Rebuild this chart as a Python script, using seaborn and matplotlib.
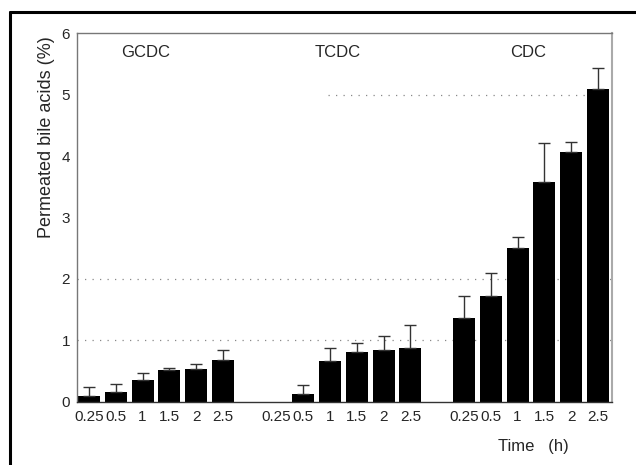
import numpy as np
import pandas as pd
import matplotlib
matplotlib.use('Agg')
import matplotlib.pyplot as plt
import seaborn as sns

# values (mean and upper error bar)
times = ['0.25', '0.5', '1', '1.5', '2', '2.5']
groups = ['GCDC', 'TCDC', 'CDC']
gcdc_mean = [0.10, 0.17, 0.36, 0.52, 0.53, 0.69]
gcdc_sd = [0.14, 0.12, 0.11, 0.03, 0.08, 0.15]
tcdc_mean = [0.0, 0.125, 0.66, 0.81, 0.85, 0.88]
tcdc_sd = [0.0, 0.145, 0.22, 0.15, 0.23, 0.37]
cdc_mean = [1.36, 1.73, 2.51, 3.58, 4.06, 5.09]
cdc_sd = [0.36, 0.36, 0.18, 0.63, 0.17, 0.34]

sns.set_style('white')
plt.rcParams['font.family'] = ['Liberation Sans', 'DejaVu Sans']

# build slot table, one empty slot between groups
rows = []
for gi, (g, m, s) in enumerate(zip(groups, [gcdc_mean, tcdc_mean, cdc_mean],
                                   [gcdc_sd, tcdc_sd, cdc_sd])):
    if gi > 0:
        rows.append({'slot': 'gap%d' % gi, 'time': '', 'mean': np.nan, 'sd': np.nan})
    for t, mv, sv in zip(times, m, s):
        rows.append({'slot': g + t, 'time': t, 'mean': mv, 'sd': sv})
df = pd.DataFrame(rows)

fig = plt.figure(figsize=(6.36, 4.65), dpi=100)
ax = fig.add_axes([0.121, 0.1355, 0.841, 0.7935])

sns.barplot(data=df, x='slot', y='mean', order=list(df['slot']), color='black',
            width=0.82, saturation=1, errorbar=None, ax=ax)
for p in ax.patches:
    p.set_edgecolor('none')

pos = np.arange(len(df))
ok = df['sd'].notna() & (df['sd'] > 0)
ax.errorbar(pos[ok], df['mean'][ok], yerr=[np.zeros(ok.sum()), df['sd'][ok]],
            fmt='none', ecolor='#333333', elinewidth=1, capsize=4, capthick=1)

for yv, x0 in [(1, 0), (2, 0), (5, 0.47)]:
    ax.axhline(yv, xmin=x0, color='#888888', lw=0.9, ls=(0, (1, 5)), zorder=0)

ax.set_xlim(-0.45, 19.52)
ax.set_ylim(0, 6)
ax.set_yticks(range(7))
ax.set_xticks(pos)
ax.set_xticklabels(df['time'])
ax.tick_params(axis='both', length=0, labelsize=11)
ax.tick_params(axis='y', pad=5)
ax.tick_params(axis='x', pad=6)
ax.set_xlabel('')
ax.set_ylabel('Permeated bile acids (%)', fontsize=13)
ax.yaxis.set_label_coords(-0.041, 0.718)

for sp in ['left', 'top']:
    ax.spines[sp].set_color('#777777')
    ax.spines[sp].set_linewidth(1)
ax.spines['right'].set_color('#aaaaaa')
ax.spines['right'].set_linewidth(1.5)
ax.spines['bottom'].set_color('#333333')
ax.spines['bottom'].set_linewidth(1)

for g, xc in zip(groups, [2.1, 9.3, 16.4]):
    ax.text(xc, 5.68, g, ha='center', va='center', fontsize=12)

fig.text(533 / 636, 1 - 446 / 465, 'Time   (h)', ha='center', va='center', fontsize=12)

# outer frame (top and left edges)
fig.add_artist(plt.Line2D([10 / 636, 1], [1 - 12 / 465, 1 - 12 / 465], color='black', lw=2.2))
fig.add_artist(plt.Line2D([10 / 636, 10 / 636], [0, 1 - 12 / 465], color='black', lw=2.2))

fig.savefig('out.png', dpi=100)
